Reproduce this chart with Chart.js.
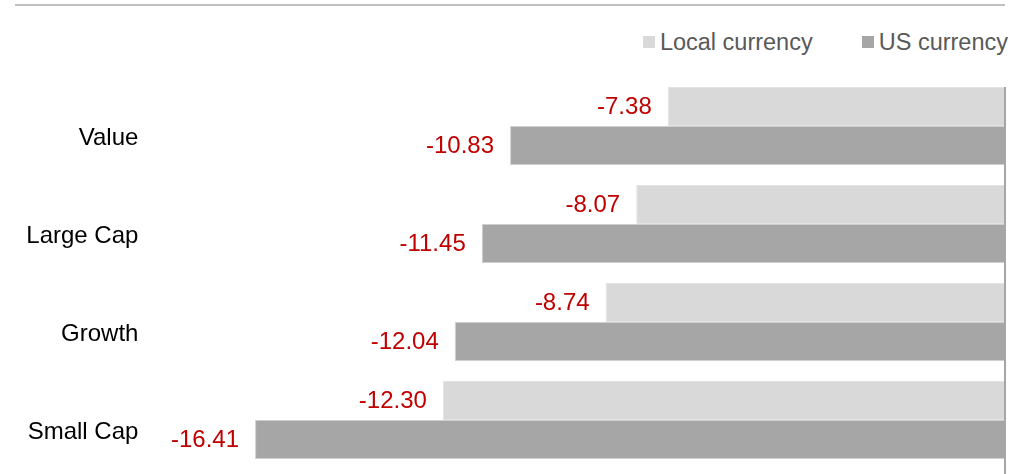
<!DOCTYPE html>
<html>
<head>
<meta charset="utf-8">
<script src="https://cdn.jsdelivr.net/npm/chart.js@4.4.0/dist/chart.umd.min.js"></script>
<style>
  html, body { margin: 0; padding: 0; overflow: hidden; background: #fff; }
  #wrap { position: relative; width: 1023px; height: 474px; overflow: hidden; }
  #topline { position: absolute; left: 15px; top: 4px; width: 990px; height: 2px; background: #bfbfbf; }
  #legend { position: absolute; top: 28px; right: 15px; display: flex; font-family: "Liberation Sans", Arial, sans-serif; font-size: 23.5px; color: #595959; line-height: 28px; }
  #legend .item { display: flex; align-items: center; margin-left: 49px; }
  #legend .item:first-child { margin-left: 0; }
  #legend .box { width: 12px; height: 12px; margin-right: 5px; }
  canvas { position: absolute; left: 0; top: 0; }
</style>
</head>
<body>
<div id="wrap">
  <div id="topline"></div>
  <div id="legend"></div>
  <canvas id="chart" width="1023" height="530"></canvas>
</div>
<script>
const categories = ["Value", "Large Cap", "Growth", "Small Cap"];
const localCurrency = [-7.38, -8.07, -8.74, -12.30];
const usCurrency = [-10.83, -11.45, -12.04, -16.41];

const fontFamily = '"Liberation Sans", Arial, sans-serif';

// red value labels at the left end of each bar
const valueLabels = {
  id: "valueLabels",
  afterDatasetsDraw(chart) {
    const ctx = chart.ctx;
    ctx.save();
    ctx.font = "24px " + fontFamily;
    ctx.fillStyle = "#c00000";
    ctx.textAlign = "right";
    ctx.textBaseline = "middle";
    chart.data.datasets.forEach((ds, i) => {
      chart.getDatasetMeta(i).data.forEach((bar, j) => {
        ctx.fillText(ds.data[j].toFixed(2), bar.x - 16, bar.y + 1);
      });
    });
    ctx.restore();
  }
};

// vertical axis line at zero
const zeroLine = {
  id: "zeroLine",
  afterDatasetsDraw(chart) {
    const ctx = chart.ctx;
    const x0 = chart.scales.x.getPixelForValue(0);
    const first = chart.getDatasetMeta(0).data[0];
    ctx.save();
    ctx.strokeStyle = "#a6a6a6";
    ctx.lineWidth = 2;
    ctx.beginPath();
    ctx.moveTo(x0, first.y - first.height / 2);
    ctx.lineTo(x0, chart.height);
    ctx.stroke();
    ctx.restore();
  }
};

const chart = new Chart(document.getElementById("chart"), {
  type: "bar",
  data: {
    labels: categories,
    datasets: [
      {
        label: "Local currency",
        data: localCurrency,
        backgroundColor: "#d9d9d9",
        borderColor: "#e3e3e3",
        borderWidth: 1,
        categoryPercentage: 0.796,
        barPercentage: 1.0
      },
      {
        label: "US currency",
        data: usCurrency,
        backgroundColor: "#a6a6a6",
        borderColor: "#cfcfcf",
        borderWidth: 1,
        categoryPercentage: 0.796,
        barPercentage: 1.0
      }
    ]
  },
  options: {
    indexAxis: "y",
    responsive: false,
    animation: false,
    // canvas is taller than the window; the last band runs past the bottom edge
    layout: { padding: { top: 77, bottom: 61, right: 18, left: 0 } },
    plugins: {
      legend: { display: false },
      tooltip: { enabled: false }
    },
    scales: {
      x: {
        display: false,
        min: -18,
        max: 0
      },
      y: {
        grid: { display: false },
        border: { display: false },
        ticks: {
          color: "#000",
          font: { family: fontFamily, size: 24 },
          padding: 36,
          labelOffset: 12
        },
        afterFit(scale) { scale.width = 182.4; }
      }
    }
  },
  plugins: [valueLabels, zeroLine]
});

// legend built from the chart's datasets
const legendEl = document.getElementById("legend");
chart.data.datasets.forEach(ds => {
  const item = document.createElement("div");
  item.className = "item";
  item.innerHTML = `<span class="box" style="background:${ds.backgroundColor}"></span><span>${ds.label}</span>`;
  legendEl.appendChild(item);
});
</script>
</body>
</html>
